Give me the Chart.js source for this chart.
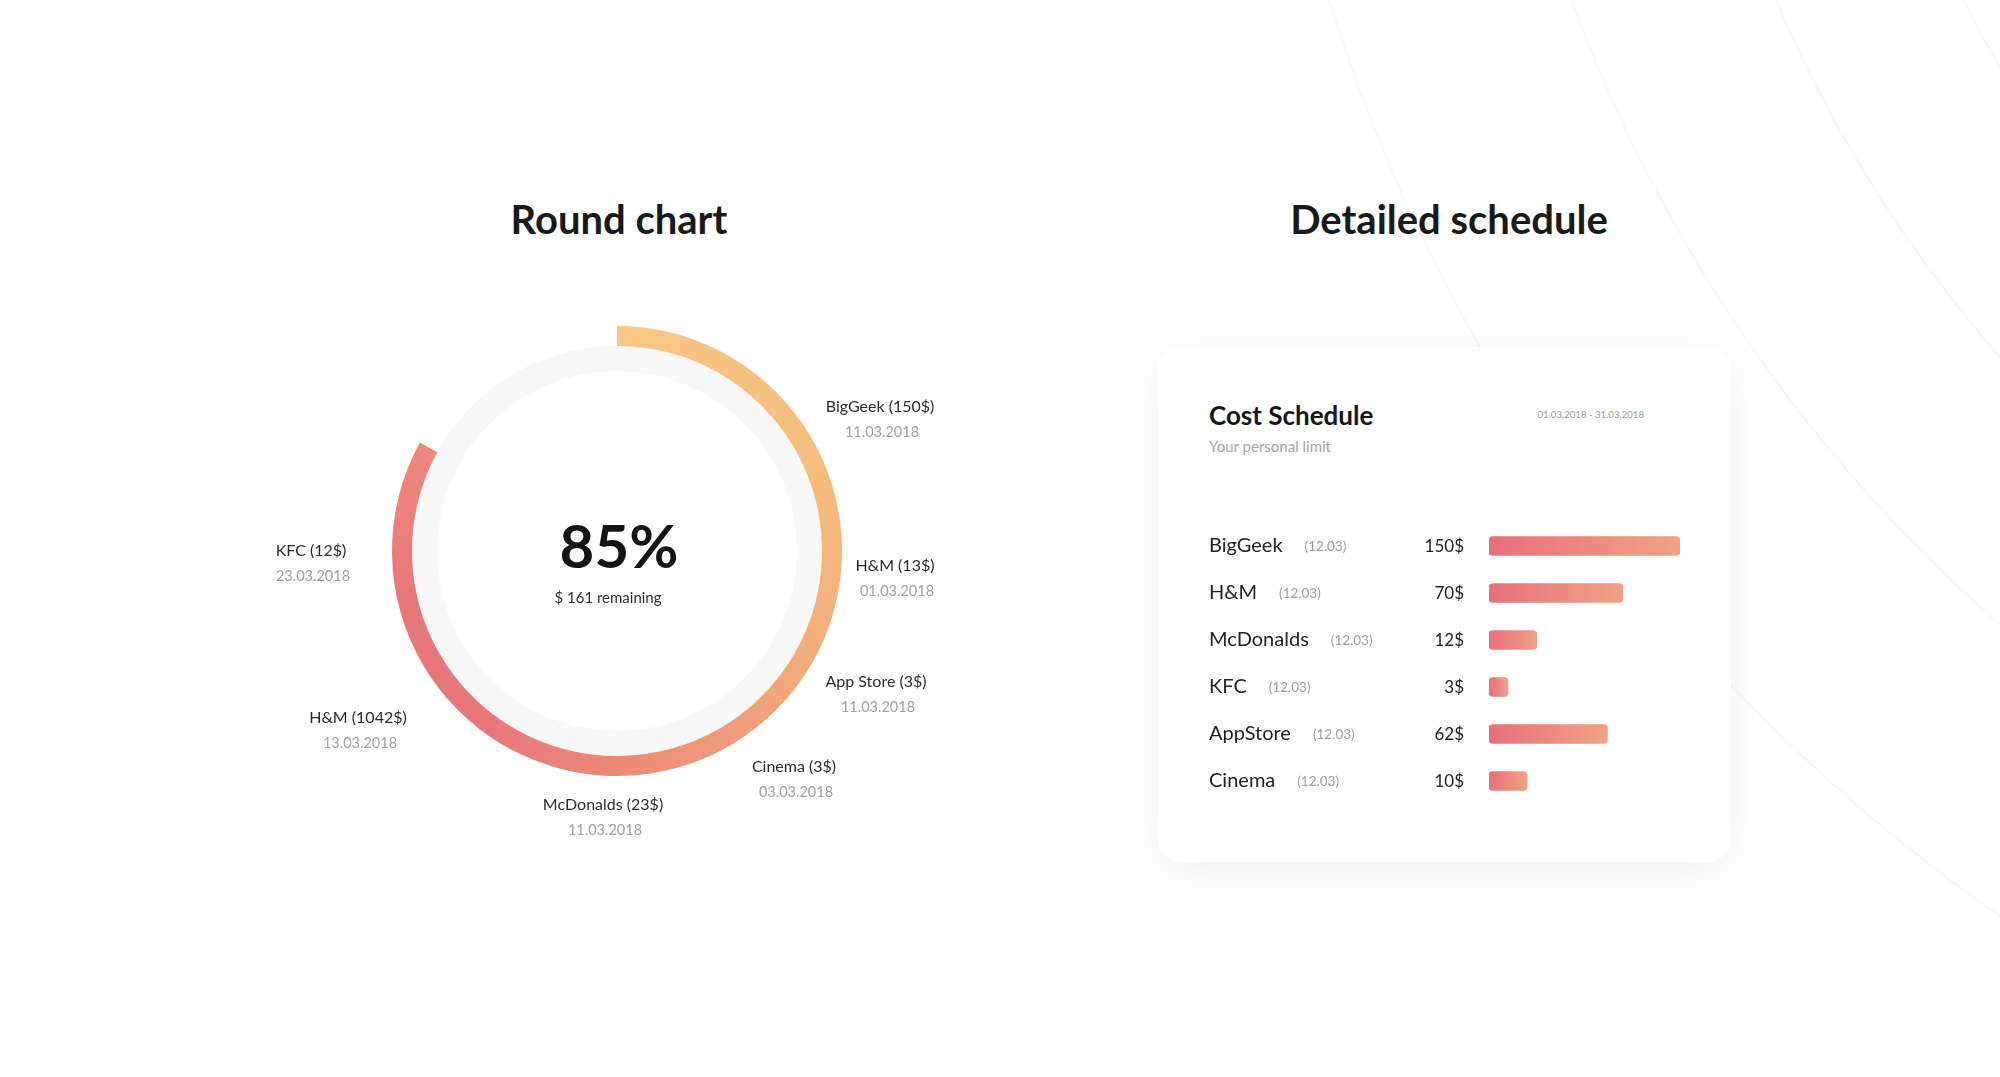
<!DOCTYPE html>
<html>
<head>
<meta charset="utf-8">
<title>Round chart / Detailed schedule</title>
<script src="https://cdn.jsdelivr.net/npm/chart.js@4.4.1/dist/chart.umd.min.js"></script>
<style>
    html, body { margin: 0; padding: 0; background: #fff; }
    body {
        width: 2000px; height: 1077px; position: relative; overflow: hidden;
        font-family: Lato, 'Open Sans', sans-serif;
    }
    .fondo { position: absolute; left: 0; top: 0; }
    .titulo {
        position: absolute; top: 192px; line-height: 54px;
        font-size: 40px; font-weight: 700; color: #1a1a1a;
        transform: translateX(-50%); white-space: nowrap;
    }
    .tarjeta {
        position: absolute; left: 1158px; top: 347px; width: 573px; height: 515px;
        background: #fff; border-radius: 22px;
        box-shadow: 0 8px 45px rgba(0, 0, 0, 0.06);
    }
    .tarjeta h3 {
        position: absolute; left: 51px; top: 52px; margin: 0;
        font-size: 26px; line-height: 32px; font-weight: 700; color: #151515;
    }
    .tarjeta .sub {
        position: absolute; left: 51px; top: 89px; line-height: 20px;
        font-size: 15px; color: #a3a3a3;
    }
    .tarjeta .rango {
        position: absolute; right: 87px; top: 61px; line-height: 14px;
        font-size: 9.6px; color: #9a9a9a;
    }
    #dona { position: absolute; left: 217px; top: 231px; }
    #barras { position: absolute; left: 1158px; top: 500px; }
</style>
</head>
<body>

<svg class="fondo" width="2000" height="1077">
    <g fill="none" stroke="#f6f6f6" stroke-width="1.3">
        <circle cx="3000" cy="-520" r="1750"/>
        <circle cx="3000" cy="-520" r="1520"/>
        <circle cx="3000" cy="-520" r="1330"/>
        <circle cx="3000" cy="-520" r="1160"/>
    </g>
</svg>

<div class="titulo" style="left:619px">Round chart</div>
<div class="titulo" style="left:1449px">Detailed schedule</div>

<div class="tarjeta">
    <h3>Cost Schedule</h3>
    <div class="sub">Your personal limit</div>
    <div class="rango">01.03.2018 - 31.03.2018</div>
</div>

<canvas id="dona" width="800" height="640"></canvas>
<canvas id="barras" width="573" height="330"></canvas>

<script>
// ---------------- DATOS ----------------
// Gráfica redonda: parte gastada del límite y el resto
const porcionArco = [83, 17];
const porcionPista = [100];
const textoCentro = '85%';
const textoRestante = '$ 161 remaining';
const nombresCompra = ['BigGeek (150$)', 'H&M (13$)', 'App Store (3$)', 'Cinema (3$)', 'McDonalds (23$)', 'H&M (1042$)', 'KFC (12$)'];
const fechasCompra = ['11.03.2018', '01.03.2018', '11.03.2018', '03.03.2018', '11.03.2018', '13.03.2018', '23.03.2018'];

// Detalle de gastos
const tiendas = ['BigGeek', 'H&M', 'McDonalds', 'KFC', 'AppStore', 'Cinema'];
const fechasTienda = ['(12.03)', '(12.03)', '(12.03)', '(12.03)', '(12.03)', '(12.03)'];
const importes = ['150$', '70$', '12$', '3$', '62$', '10$'];
const nivelBarra = [100, 70, 25, 10, 62, 20];

// Posición de las etiquetas alrededor del anillo (desde el centro)
const desplazEtiquetas = [[263, -144], [278, 15], [259, 131], [177, 216], [-14, 254], [-259, 167], [-306, 0]];

const FUENTE = 'Lato, "Open Sans", sans-serif';

// ---------------- GRÁFICA REDONDA ----------------
function degradadoArco(context) {
    if (context.dataIndex === 1) return 'rgba(0,0,0,0)';
    const chart = context.chart;
    const area = chart.chartArea;
    if (!area) return '#ef9a7b';
    const cx = (area.left + area.right) / 2;
    const cy = (area.top + area.bottom) / 2;
    const g = chart.ctx.createConicGradient(-Math.PI / 2, cx, cy);
    g.addColorStop(0.00, '#f7c784');
    g.addColorStop(0.20, '#f6bd7f');
    g.addColorStop(0.35, '#f2a97b');
    g.addColorStop(0.48, '#ec8e78');
    g.addColorStop(0.60, '#e8777a');
    g.addColorStop(0.72, '#e9787b');
    g.addColorStop(0.84, '#ee8b7c');
    g.addColorStop(1.00, '#ee8c7c');
    return g;
}

const textosDona = {
    id: 'textosDona',
    afterDraw(chart) {
        const { ctx, chartArea: a } = chart;
        const cx = (a.left + a.right) / 2;
        const cy = (a.top + a.bottom) / 2;
        ctx.save();
        ctx.textAlign = 'center';
        ctx.textBaseline = 'middle';

        ctx.fillStyle = '#141414';
        ctx.font = '700 60px ' + FUENTE;
        ctx.fillText(textoCentro, cx + 2, cy - 2);
        ctx.fillStyle = '#2e2e2e';
        ctx.font = '15px ' + FUENTE;
        ctx.fillText(textoRestante, cx - 9, cy + 47);

        nombresCompra.forEach((nombre, i) => {
            const [dx, dy] = desplazEtiquetas[i];
            ctx.fillStyle = '#2b2b2b';
            ctx.font = '16px ' + FUENTE;
            ctx.fillText(nombre, cx + dx, cy + dy);
            ctx.fillStyle = '#a0a0a0';
            ctx.font = '14.5px ' + FUENTE;
            ctx.fillText(fechasCompra[i], cx + dx + 2, cy + dy + 25);
        });
        ctx.restore();
    }
};

new Chart(document.getElementById('dona').getContext('2d'), {
    type: 'doughnut',
    data: {
        labels: ['Spent', 'Remaining'],
        datasets: [{
            data: porcionArco,
            backgroundColor: degradadoArco,
            borderWidth: 0,
            weight: 20
        }, {
            data: porcionPista,
            backgroundColor: '#f8f8f8',
            borderWidth: 0,
            weight: 25
        }]
    },
    options: {
        responsive: false,
        animation: false,
        events: [],
        cutout: '80%',
        layout: { padding: { left: 175, right: 175, top: 95, bottom: 95 } },
        plugins: { legend: { display: false }, tooltip: { enabled: false } }
    },
    plugins: [textosDona]
});

// ---------------- GRÁFICA DE BARRAS ----------------
function degradadoBarra(context) {
    const chart = context.chart;
    if (!chart.chartArea) return '#ea7d7c';
    const escala = chart.scales.x;
    const x0 = escala.getPixelForValue(0);
    const x1 = escala.getPixelForValue(nivelBarra[context.dataIndex]);
    const g = chart.ctx.createLinearGradient(x0, 0, x1, 0);
    g.addColorStop(0, '#e8707c');
    g.addColorStop(1, '#f0a283');
    return g;
}

const textosFilas = {
    id: 'textosFilas',
    afterDraw(chart) {
        const ctx = chart.ctx;
        const escalaY = chart.scales.y;
        ctx.save();
        ctx.textBaseline = 'middle';
        tiendas.forEach((tienda, i) => {
            const y = escalaY.getPixelForValue(i);
            ctx.textAlign = 'left';
            ctx.fillStyle = '#222';
            ctx.font = '20px ' + FUENTE;
            ctx.fillText(tienda, 51, y);
            const ancho = ctx.measureText(tienda).width;
            ctx.fillStyle = '#9c9c9c';
            ctx.font = '13.5px ' + FUENTE;
            ctx.fillText(fechasTienda[i], 51 + ancho + 22, y + 1);
            ctx.textAlign = 'right';
            ctx.fillStyle = '#222';
            ctx.font = '17px ' + FUENTE;
            ctx.fillText(importes[i], 306, y + 1);
        });
        ctx.restore();
    }
};

new Chart(document.getElementById('barras').getContext('2d'), {
    type: 'bar',
    data: {
        labels: tiendas,
        datasets: [{
            data: nivelBarra,
            backgroundColor: degradadoBarra,
            barThickness: 19,
            borderRadius: 4,
            borderSkipped: false
        }]
    },
    options: {
        indexAxis: 'y',
        responsive: false,
        animation: false,
        events: [],
        layout: { padding: { left: 331, right: 51, top: 22.5, bottom: 25.5 } },
        scales: {
            x: { display: false, min: 0, max: 100 },
            y: { display: false }
        },
        plugins: { legend: { display: false }, tooltip: { enabled: false } }
    },
    plugins: [textosFilas]
});
</script>
</body>
</html>
